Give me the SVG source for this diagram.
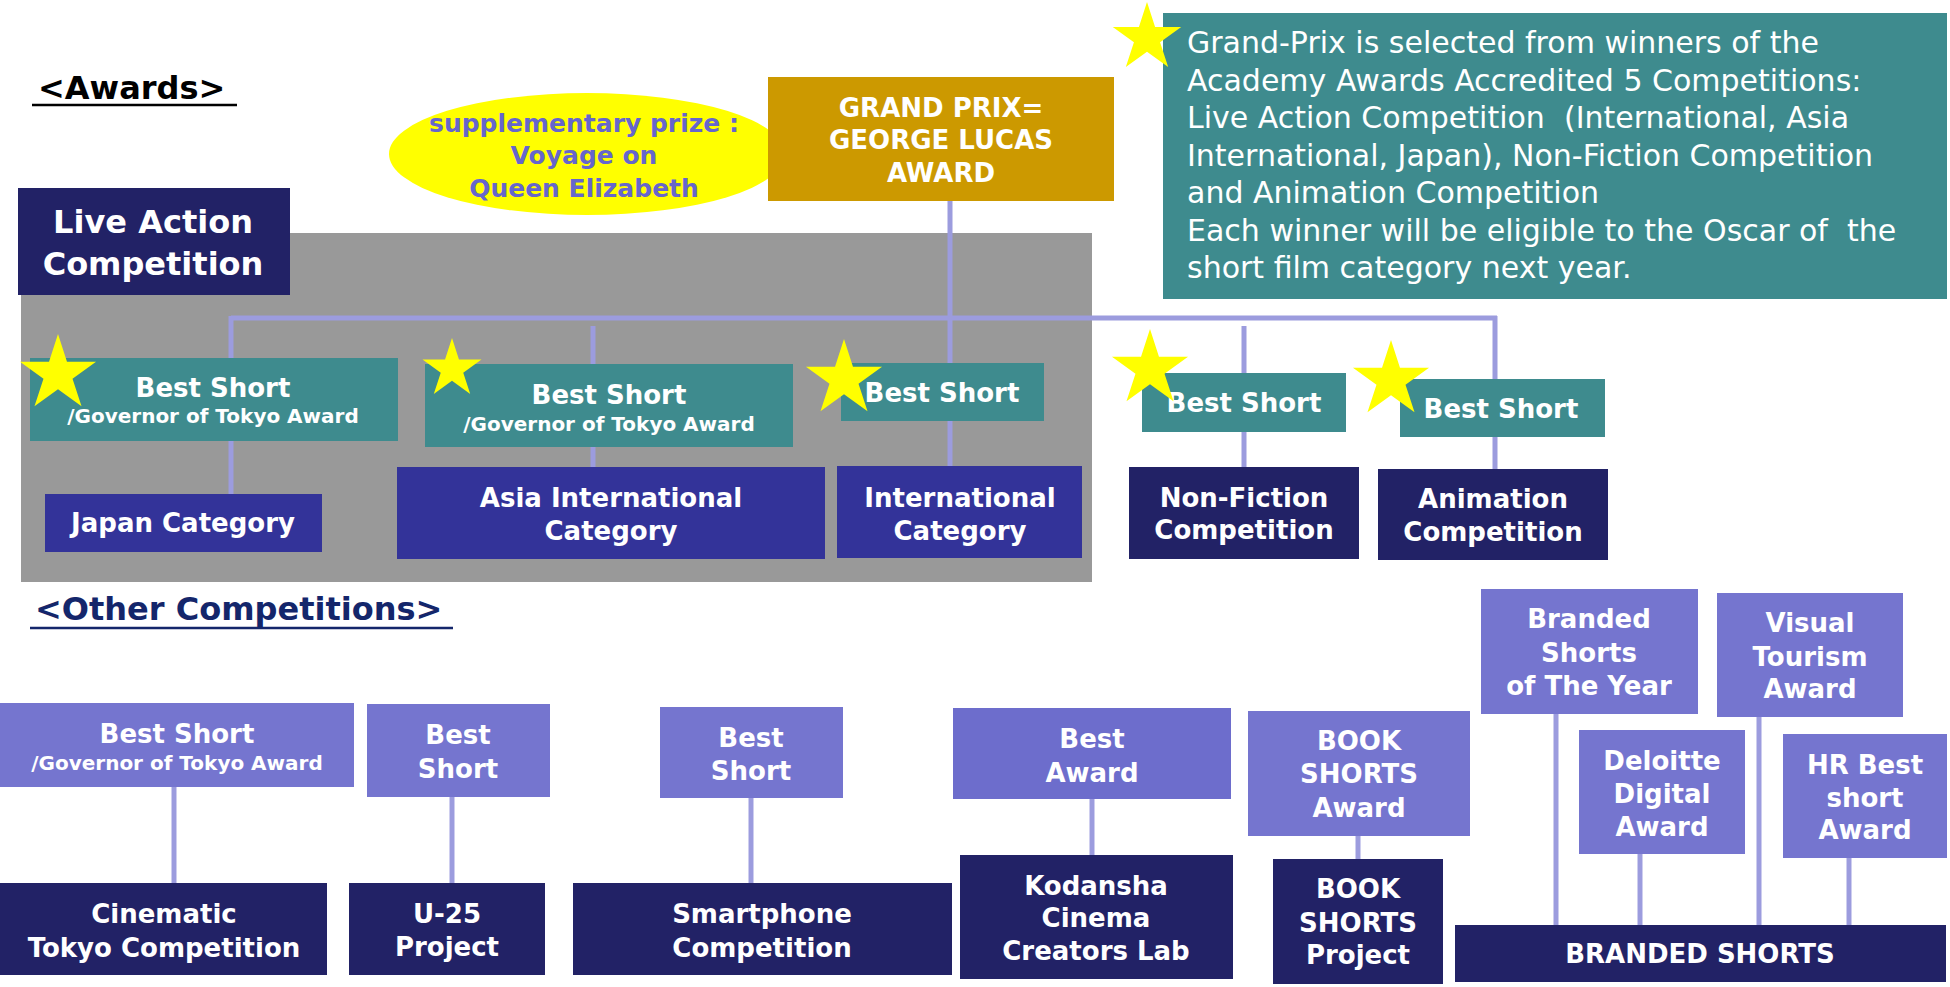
<svg xmlns="http://www.w3.org/2000/svg" xmlns:xlink="http://www.w3.org/1999/xlink" width="1950" height="987" viewBox="0 0 1950 987">
<style>
text{font-family:"DejaVu Sans","Liberation Sans",sans-serif;font-weight:bold;fill:#fff;text-anchor:middle}
.f26{font-size:26px}
.f20{font-size:20px}
.f32{font-size:32px}
.teal{fill:#3E8B8E}
.navy{fill:#222266}
.blue{fill:#333399}
.lilac{fill:#7575CF}
.conn line{stroke:#9C9CDE;stroke-width:5}
.star{fill:#FFFF00}
.info{font-weight:normal;font-size:30px;text-anchor:start;white-space:pre}
.hdr{font-size:32px;text-anchor:start}
</style>
<defs>
<polygon id="star" points="0,-1 0.2245,-0.309 0.951,-0.309 0.363,0.118 0.588,0.809 0,0.382 -0.588,0.809 -0.363,0.118 -0.951,-0.309 -0.2245,-0.309"/>
</defs>
<rect width="1950" height="987" fill="#fff"/>

<g id="awards-header">
<text class="hdr" x="38" y="99" style="fill:#000">&lt;Awards&gt;</text>
<line x1="32" y1="105" x2="237" y2="105" stroke="#000" stroke-width="2.5"/>
</g>

<g id="live-action-area">
<rect x="21" y="233" width="1071" height="349" fill="#999999"/>
</g>

<g id="connectors" class="conn">
<line x1="950" y1="201" x2="950" y2="466"/>
<line x1="231" y1="318" x2="1497" y2="318"/>
<line x1="231" y1="316" x2="231" y2="494"/>
<line x1="593" y1="326" x2="593" y2="467"/>
<line x1="1244" y1="326" x2="1244" y2="467"/>
<line x1="1495" y1="316" x2="1495" y2="469"/>
<line x1="174" y1="787" x2="174" y2="884"/>
<line x1="452" y1="797" x2="452" y2="883"/>
<line x1="751" y1="798" x2="751" y2="883"/>
<line x1="1092" y1="799" x2="1092" y2="855"/>
<line x1="1358" y1="836" x2="1358" y2="859"/>
<line x1="1556" y1="714" x2="1556" y2="925"/>
<line x1="1759" y1="717" x2="1759" y2="925"/>
<line x1="1640" y1="854" x2="1640" y2="925"/>
<line x1="1849" y1="858" x2="1849" y2="925"/>
</g>

<g id="supplementary-prize">
<ellipse cx="587" cy="154" rx="198" ry="61" fill="#FFFF00"/>
<text class="f26" x="584" y="132" style="fill:#6666CC;font-size:25px">supplementary prize :</text>
<text class="f26" x="584" y="164" style="fill:#6666CC;font-size:25px">Voyage on</text>
<text class="f26" x="584" y="197" style="fill:#6666CC;font-size:25px">Queen Elizabeth</text>
</g>

<g id="grand-prix">
<rect x="768" y="77" width="346" height="124" fill="#CC9900"/>
<text class="f26" x="941" y="117">GRAND PRIX=</text>
<text class="f26" x="941" y="149">GEORGE LUCAS</text>
<text class="f26" x="941" y="182">AWARD</text>
</g>

<g id="info-box">
<rect x="1163" y="13" width="784" height="286" fill="#3E8B8E"/>
<text class="info" x="1187" y="53">Grand-Prix is selected from winners of the</text>
<text class="info" x="1187" y="91">Academy Awards Accredited 5 Competitions:</text>
<text class="info" x="1187" y="128">Live Action Competition  (International, Asia</text>
<text class="info" x="1187" y="166">International, Japan), Non-Fiction Competition</text>
<text class="info" x="1187" y="203">and Animation Competition</text>
<text class="info" x="1187" y="241">Each winner will be eligible to the Oscar of  the</text>
<text class="info" x="1187" y="278">short film category next year.</text>
<use href="#star" class="star" transform="translate(1147,38) scale(36)"/>
</g>

<g id="live-action-competition">
<rect class="navy" x="18" y="188" width="272" height="107"/>
<text class="f32" x="153" y="233">Live Action</text>
<text class="f32" x="153" y="275">Competition</text>
</g>

<g id="best-short-japan">
<rect class="teal" x="30" y="358" width="368" height="83"/>
<text class="f26" x="213" y="397">Best Short</text>
<text class="f20" x="213" y="423">/Governor of Tokyo Award</text>
<use href="#star" class="star" transform="translate(58,374) scale(40)"/>
</g>

<g id="japan-category">
<rect class="blue" x="45" y="494" width="277" height="58"/>
<text class="f26" x="183" y="532">Japan Category</text>
</g>

<g id="best-short-asia">
<rect class="teal" x="425" y="364" width="368" height="83"/>
<text class="f26" x="609" y="404">Best Short</text>
<text class="f20" x="609" y="431">/Governor of Tokyo Award</text>
<use href="#star" class="star" transform="translate(452,369) scale(31)"/>
</g>

<g id="asia-international-category">
<rect class="blue" x="397" y="467" width="428" height="92"/>
<text class="f26" x="611" y="507">Asia International</text>
<text class="f26" x="611" y="540">Category</text>
</g>

<g id="best-short-international">
<rect class="teal" x="841" y="363" width="203" height="58"/>
<text class="f26" x="942" y="402">Best Short</text>
<use href="#star" class="star" transform="translate(844,379) scale(40)"/>
</g>

<g id="international-category">
<rect class="blue" x="837" y="466" width="245" height="92"/>
<text class="f26" x="960" y="507">International</text>
<text class="f26" x="960" y="540">Category</text>
</g>

<g id="best-short-nonfiction">
<rect class="teal" x="1142" y="373" width="204" height="59"/>
<text class="f26" x="1244" y="412">Best Short</text>
<use href="#star" class="star" transform="translate(1150,369) scale(40)"/>
</g>

<g id="nonfiction-competition">
<rect class="navy" x="1129" y="467" width="230" height="92"/>
<text class="f26" x="1244" y="507">Non-Fiction</text>
<text class="f26" x="1244" y="539">Competition</text>
</g>

<g id="best-short-animation">
<rect class="teal" x="1400" y="379" width="205" height="58"/>
<text class="f26" x="1501" y="418">Best Short</text>
<use href="#star" class="star" transform="translate(1391,380) scale(40)"/>
</g>

<g id="animation-competition">
<rect class="navy" x="1378" y="469" width="230" height="91"/>
<text class="f26" x="1493" y="508">Animation</text>
<text class="f26" x="1493" y="541">Competition</text>
</g>

<g id="other-header">
<text class="hdr" x="35" y="620" style="fill:#14266B">&lt;Other Competitions&gt;</text>
<line x1="30" y1="628" x2="453" y2="628" stroke="#14266B" stroke-width="2.5"/>
</g>

<g id="best-short-cinematic">
<rect class="lilac" x="0" y="703" width="354" height="84"/>
<text class="f26" x="177" y="743">Best Short</text>
<text class="f20" x="177" y="770">/Governor of Tokyo Award</text>
</g>

<g id="cinematic-tokyo">
<rect class="navy" x="0" y="883" width="327" height="92"/>
<text class="f26" x="164" y="923">Cinematic</text>
<text class="f26" x="164" y="957">Tokyo Competition</text>
</g>

<g id="best-short-u25">
<rect class="lilac" x="367" y="704" width="183" height="93"/>
<text class="f26" x="458" y="744">Best</text>
<text class="f26" x="458" y="778">Short</text>
</g>

<g id="u25-project">
<rect class="navy" x="349" y="883" width="196" height="92"/>
<text class="f26" x="447" y="923">U-25</text>
<text class="f26" x="447" y="956">Project</text>
</g>

<g id="best-short-smartphone">
<rect class="lilac" x="660" y="707" width="183" height="91"/>
<text class="f26" x="751" y="747">Best</text>
<text class="f26" x="751" y="780">Short</text>
</g>

<g id="smartphone-competition">
<rect class="navy" x="573" y="883" width="379" height="92"/>
<text class="f26" x="762" y="923">Smartphone</text>
<text class="f26" x="762" y="957">Competition</text>
</g>

<g id="best-award-kodansha">
<rect x="953" y="708" width="278" height="91" fill="#6D6DCC"/>
<text class="f26" x="1092" y="748">Best</text>
<text class="f26" x="1092" y="782">Award</text>
</g>

<g id="kodansha">
<rect class="navy" x="960" y="855" width="273" height="124"/>
<text class="f26" x="1096" y="895">Kodansha</text>
<text class="f26" x="1096" y="927">Cinema</text>
<text class="f26" x="1096" y="960">Creators Lab</text>
</g>

<g id="book-shorts-award">
<rect class="lilac" x="1248" y="711" width="222" height="125"/>
<text class="f26" x="1359" y="750">BOOK</text>
<text class="f26" x="1359" y="783">SHORTS</text>
<text class="f26" x="1359" y="817">Award</text>
</g>

<g id="book-shorts-project">
<rect class="navy" x="1273" y="859" width="170" height="125"/>
<text class="f26" x="1358" y="898">BOOK</text>
<text class="f26" x="1358" y="932">SHORTS</text>
<text class="f26" x="1358" y="964">Project</text>
</g>

<g id="branded-shorts-of-the-year">
<rect class="lilac" x="1481" y="589" width="217" height="125"/>
<text class="f26" x="1589" y="628">Branded</text>
<text class="f26" x="1589" y="662">Shorts</text>
<text class="f26" x="1589" y="695">of The Year</text>
</g>

<g id="visual-tourism-award">
<rect class="lilac" x="1717" y="593" width="186" height="124"/>
<text class="f26" x="1810" y="632">Visual</text>
<text class="f26" x="1810" y="666">Tourism</text>
<text class="f26" x="1810" y="698">Award</text>
</g>

<g id="deloitte-digital-award">
<rect class="lilac" x="1579" y="730" width="166" height="124"/>
<text class="f26" x="1662" y="770">Deloitte</text>
<text class="f26" x="1662" y="803">Digital</text>
<text class="f26" x="1662" y="836">Award</text>
</g>

<g id="hr-best-short-award">
<rect class="lilac" x="1783" y="734" width="164" height="124"/>
<text class="f26" x="1865" y="774">HR Best</text>
<text class="f26" x="1865" y="807">short</text>
<text class="f26" x="1865" y="839">Award</text>
</g>

<g id="branded-shorts">
<rect class="navy" x="1455" y="925" width="491" height="57"/>
<text class="f26" x="1700" y="963">BRANDED SHORTS</text>
</g>
</svg>
